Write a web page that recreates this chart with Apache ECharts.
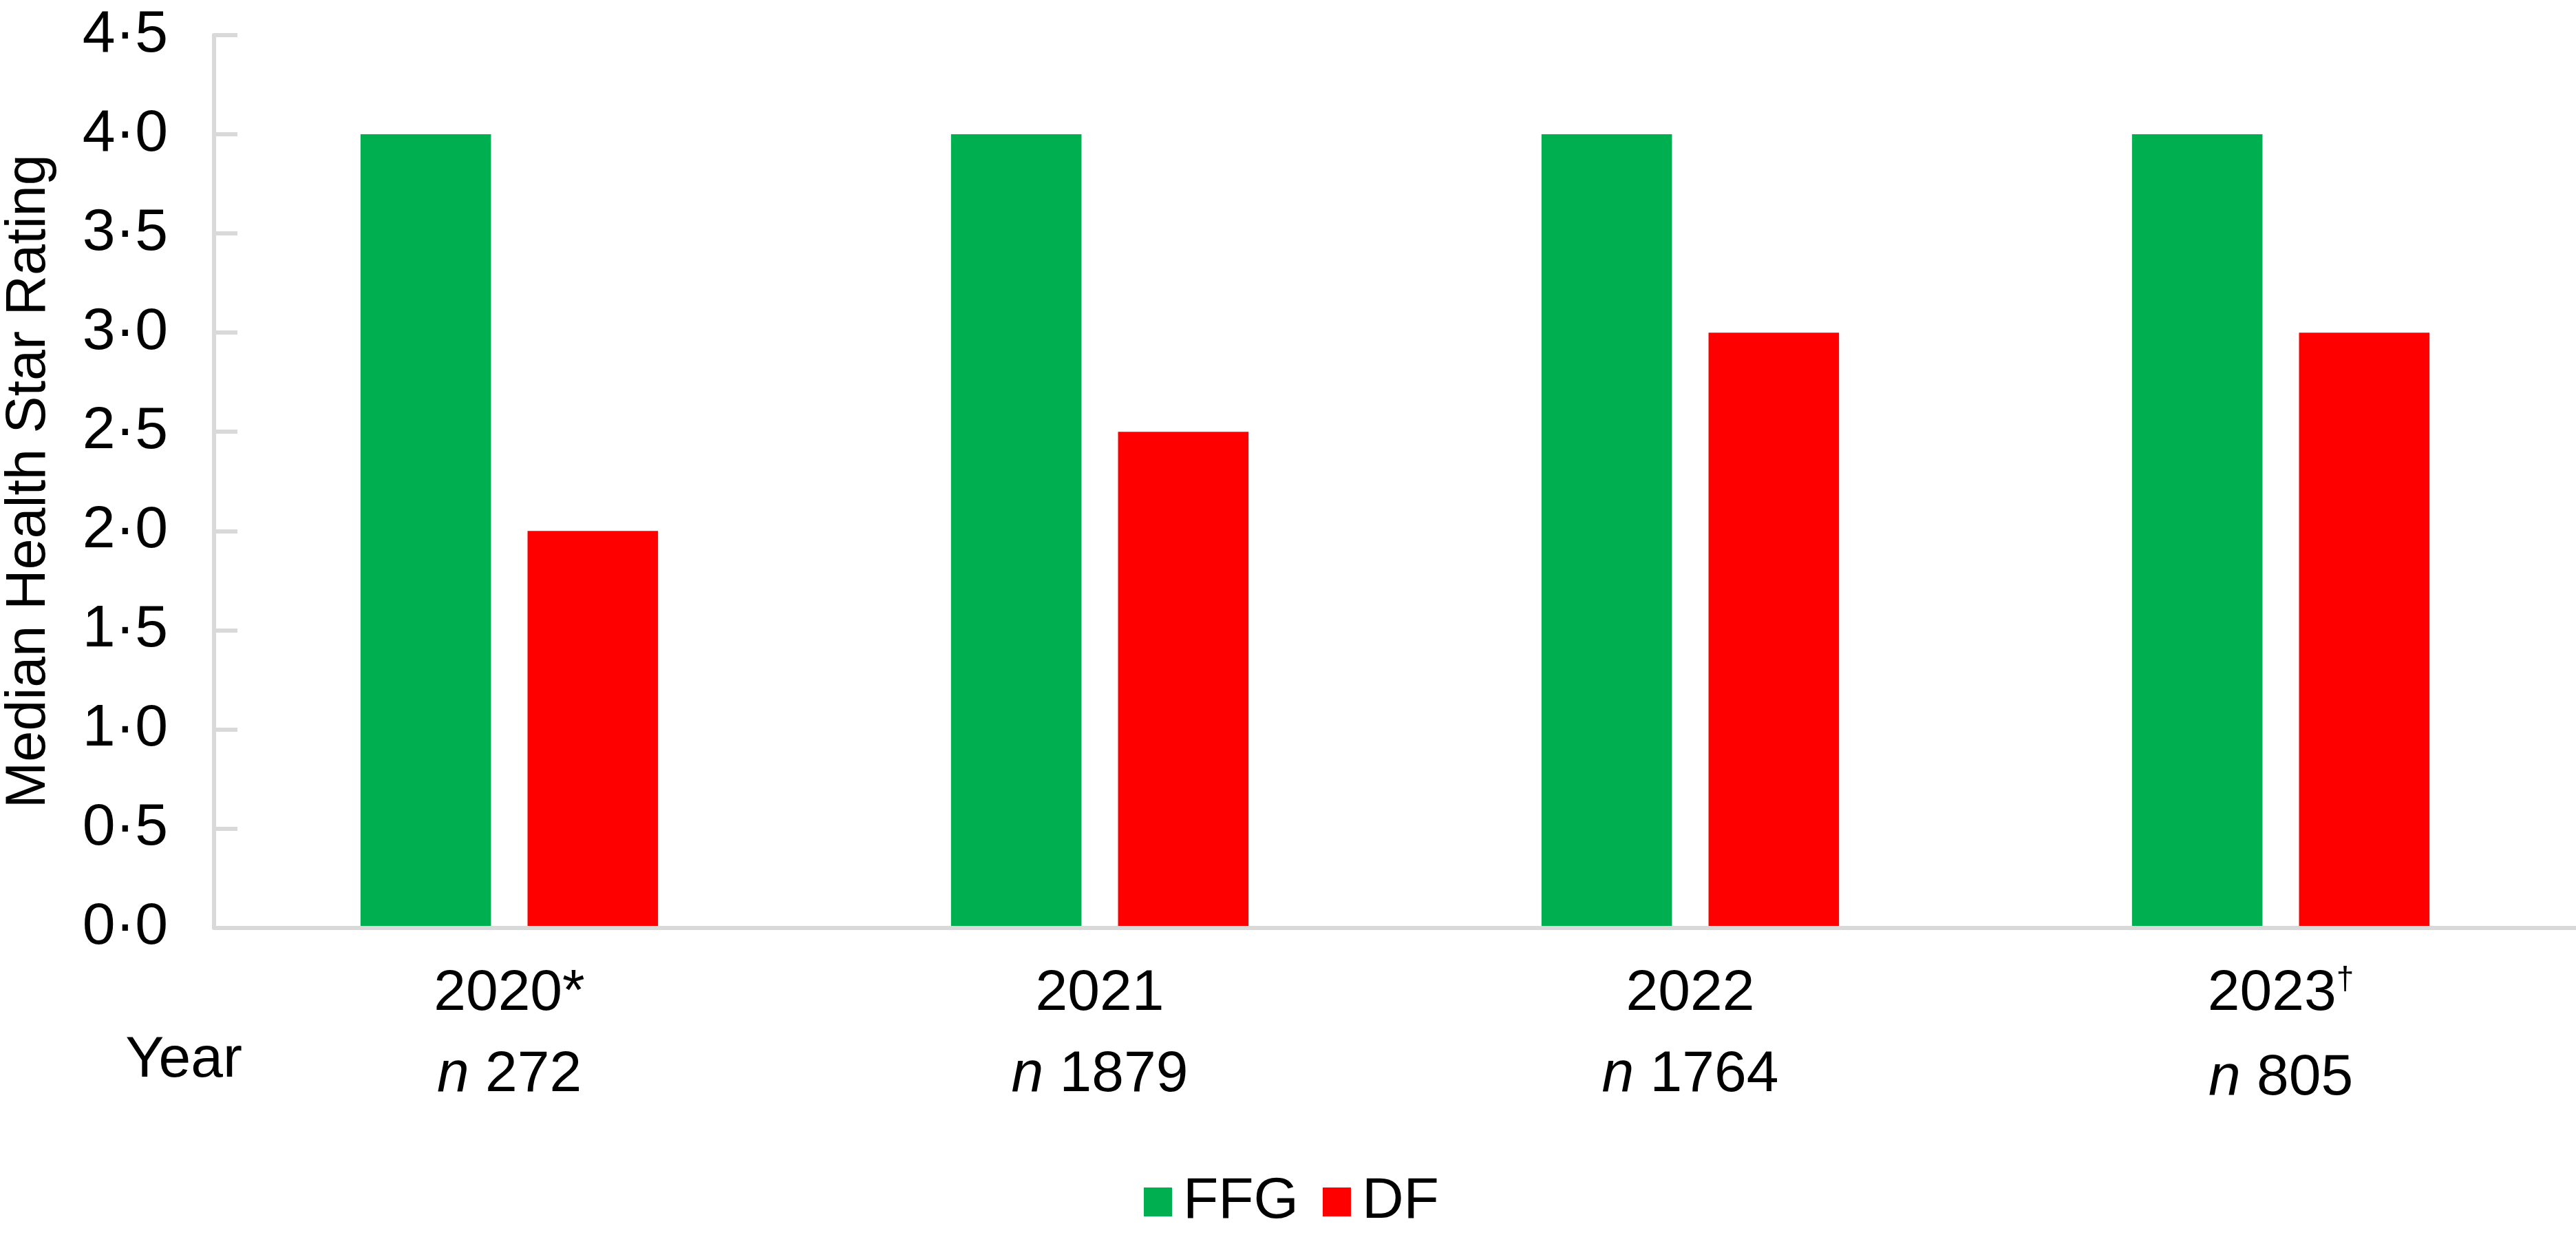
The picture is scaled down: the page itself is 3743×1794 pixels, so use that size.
<!DOCTYPE html>
<html>
<head>
<meta charset="utf-8">
<script src="https://cdn.jsdelivr.net/npm/echarts@6/dist/echarts.min.js"></script>
<style>
html,body{margin:0;padding:0;background:#fff;}
#chart{width:3743px;height:1794px;}
</style>
</head>
<body>
<div id="chart"></div>
<script>
var categories = ['2020*', '2021', '2022', '2023\u2020'];
var sampleSizes = [272, 1879, 1764, 805];
var ffgValues = [4.0, 4.0, 4.0, 4.0];
var dfValues = [2.0, 2.5, 3.0, 3.0];
var yTickLabels = ['0\u00b70','0\u00b75','1\u00b70','1\u00b75','2\u00b70','2\u00b75','3\u00b70','3\u00b75','4\u00b70','4\u00b75'];
var seriesNames = ['FFG', 'DF'];
var yTitle = 'Median Health Star Rating';
var xTitle = 'Year';

var FONT = "'Liberation Sans', Arial, sans-serif";
var AXIS = '#d9d9d9';

var chart = echarts.init(document.getElementById('chart'));
chart.setOption({
  animation: false,
  backgroundColor: '#ffffff',
  textStyle: { fontFamily: FONT, color: '#000' },
  grid: { left: 311, right: 0, top: 51, bottom: 446.5, outerBoundsMode: 'none', containLabel: false },
  legend: {
    data: seriesNames,
    left: 1662, top: 1698, padding: 0,
    itemWidth: 41, itemHeight: 42, itemGap: 35,
    icon: 'rect',
    textStyle: { fontFamily: FONT, fontSize: 84, color: '#000', padding: [0, 0, 12, 11], lineHeight: 84 }
  },
  graphic: [{
    type: 'text', x: 267, y: 1541,
    style: { text: xTitle, fontFamily: FONT, fontSize: 84, fill: '#000', align: 'center', verticalAlign: 'middle' }
  }],
  xAxis: {
    type: 'category',
    data: categories,
    z: 5,
    axisLine: { lineStyle: { color: AXIS, width: 6 } },
    axisTick: { show: false },
    axisLabel: {
      margin: 37,
      interval: 0,
      formatter: function (v, i) {
        var hasSup = v.indexOf('\u2020') >= 0;
        var yr = v.replace('\u2020', '');
        var top = hasSup ? '{yr|' + yr + '}{sup|\u2020}' : '{yr|' + yr + '}';
        var sfx = hasSup ? '2' : '';
        return top + '\n{ni' + sfx + '|n}{nv' + sfx + '| ' + sampleSizes[i] + '}';
      },
      rich: {
        yr: { fontFamily: FONT, fontSize: 84, lineHeight: 118, color: '#000' },
        sup: { fontFamily: FONT, fontSize: 46, verticalAlign: 'top', padding: [17, 0, 0, 0], color: '#000' },
        ni: { fontFamily: FONT, fontSize: 84, lineHeight: 118, fontStyle: 'italic', color: '#000' },
        nv: { fontFamily: FONT, fontSize: 84, lineHeight: 118, color: '#000' },
        ni2: { fontFamily: FONT, fontSize: 84, lineHeight: 128, fontStyle: 'italic', color: '#000' },
        nv2: { fontFamily: FONT, fontSize: 84, lineHeight: 128, color: '#000' }
      }
    },
    splitLine: { show: false }
  },
  yAxis: {
    type: 'value',
    min: 0, max: 4.5, interval: 0.5,
    name: yTitle,
    nameLocation: 'middle',
    nameGap: 228,
    nameTextStyle: { fontFamily: FONT, fontSize: 81, color: '#000' },
    z: 5,
    axisLine: { show: true, lineStyle: { color: AXIS, width: 6 } },
    axisTick: { show: true, inside: true, length: 34, lineStyle: { color: AXIS, width: 6 } },
    splitLine: { show: false },
    axisLabel: {
      margin: 67,
      fontFamily: FONT, fontSize: 86, color: '#000',
      padding: [0, 0, 8, 0],
      formatter: function (v) { return yTickLabels[Math.round(v / 0.5)]; }
    }
  },
  series: [
    { name: seriesNames[0], type: 'bar', data: ffgValues, barWidth: '22.1%', barGap: '28%', itemStyle: { color: '#00B050' } },
    { name: seriesNames[1], type: 'bar', data: dfValues, barWidth: '22.1%', barGap: '28%', itemStyle: { color: '#FF0000' } }
  ]
});
</script>
</body>
</html>
